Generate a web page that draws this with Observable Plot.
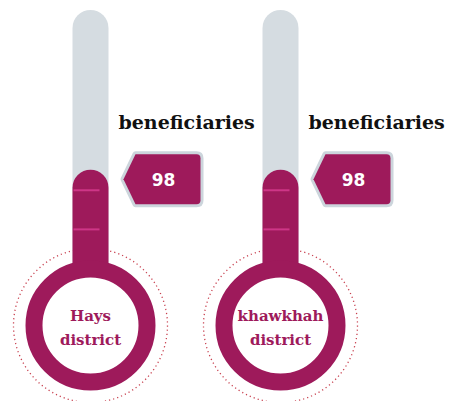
<!DOCTYPE html>
<html>
<head>
<meta charset="utf-8">
<script src="https://cdn.jsdelivr.net/npm/d3@7"></script>
<script src="https://cdn.jsdelivr.net/npm/@observablehq/plot@0.6"></script>
<style>
  html, body { margin: 0; padding: 0; background: #ffffff; }
  #chart svg { display: block; }
</style>
</head>
<body>
<div id="chart"></div>
<script>
// ---- data ----
const districts = ["Hays\ndistrict", "khawkhah\ndistrict"];
const beneficiaries = [98, 98];
const valueLabel = "beneficiaries";
const scaleMax = 212;            // top of thermometer tube
const stripeFractions = [0.985, 0.70]; // glint stripes on the filled part (fraction of value)

const rows = districts.map((d, i) => ({district: d, value: beneficiaries[i]}));
const stripes = rows.flatMap(r => stripeFractions.map(f => ({district: r.district, value: r.value * f})));

const magenta = "#9e1a5b";
const tubeGray = "#d5dce1";

// custom symbols
const badge = {
  draw(ctx, size) {
    const k = Math.sqrt(size / Math.PI) / 10;
    const w = 38.5 * k, h = 25 * k, p = 12 * k, c = 4 * k;
    ctx.moveTo(-w, 0);
    ctx.lineTo(-w + p, -h);
    ctx.lineTo(w - c, -h);
    ctx.quadraticCurveTo(w, -h, w, -h + c);
    ctx.lineTo(w, h - c);
    ctx.quadraticCurveTo(w, h, w - c, h);
    ctx.lineTo(-w + p, h);
    ctx.closePath();
  }
};
const stripe = {
  draw(ctx, size) {
    const k = Math.sqrt(size / Math.PI) / 10;
    ctx.rect(-17 * k, -1 * k, 26 * k, 2 * k);
  }
};

const chart = Plot.plot({
  width: 451,
  height: 401,
  marginTop: 28,
  marginBottom: 76,
  marginLeft: 0,
  marginRight: 0,
  x: {type: "point", domain: districts, range: [90, 280], padding: 0, axis: null},
  y: {domain: [0, scaleMax], axis: null},
  marks: [
    // dotted outer circle
    Plot.dot(rows, {x: "district", y: () => 0, r: 77, fill: "none", stroke: "#c8404f", strokeWidth: 1.3, strokeDasharray: "1.2,3"}),
    // gray tube
    Plot.ruleX(rows, {x: "district", y1: () => 0, y2: () => scaleMax, stroke: tubeGray, strokeWidth: 36, strokeLinecap: "round"}),
    // fill
    Plot.ruleX(rows, {x: "district", y1: () => 0, y2: "value", stroke: magenta, strokeWidth: 36, strokeLinecap: "round"}),
    // stripes
    Plot.dot(stripes, {x: "district", y: "value", r: 10, symbol: stripe, fill: "#e2439a", stroke: "none", fillOpacity: 0.7}),
    // bulb ring
    Plot.dot(rows, {x: "district", y: () => 0, r: 56.5, fill: "white", stroke: magenta, strokeWidth: 17}),
    // district names
    Plot.text(rows, {x: "district", y: () => 0, text: "district", fill: magenta, fontSize: 15, fontWeight: "bold", fontFamily: "DejaVu Serif", lineHeight: 1.6, lineAnchor: "middle"}),
    // "beneficiaries" label
    Plot.text(rows, {x: "district", y: "value", text: () => valueLabel, dx: 28, dy: -65, textAnchor: "start", lineAnchor: "middle", fill: "#111", fontSize: 19, fontWeight: "bold", fontFamily: "DejaVu Serif"}),
    // badge
    Plot.dot(rows, {x: "district", y: "value", r: 10, symbol: badge, dx: 71.5, dy: -9, fill: magenta, stroke: "#ccd5dc", strokeWidth: 6, strokeLinejoin: "round", paintOrder: "stroke"}),
    Plot.text(rows, {x: "district", y: "value", text: "value", dx: 73, dy: -8, fill: "white", fontSize: 17, fontWeight: "bold", fontFamily: "DejaVu Sans", lineAnchor: "middle"})
  ]
});
document.getElementById("chart").appendChild(chart);
</script>
</body>
</html>
